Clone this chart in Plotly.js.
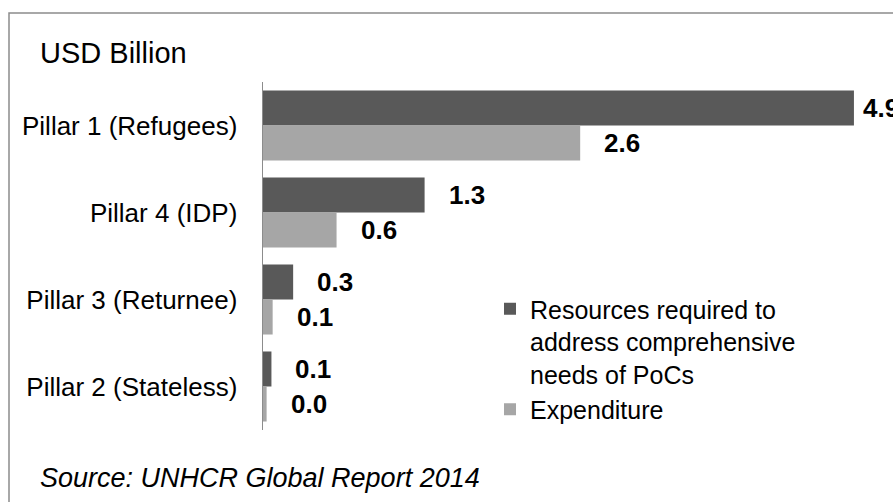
<!DOCTYPE html>
<html>
<head>
<meta charset="utf-8">
<script src="https://cdn.plot.ly/plotly-3.0.1.min.js"></script>
<style>html,body{margin:0;padding:0;background:#fff;}#chart{width:893px;height:502px;}</style>
</head>
<body>
<div id="chart"></div>
<script>
// Data
var categories = ["Pillar 1 (Refugees)", "Pillar 4 (IDP)", "Pillar 3 (Returnee)", "Pillar 2 (Stateless)"];
var requiredValues = [4.9, 1.34, 0.25, 0.07];
var expenditureValues = [2.63, 0.61, 0.08, 0.03];
var requiredLabels = ["4.9", "1.3", "0.3", "0.1"];
var expenditureLabels = ["2.6", "0.6", "0.1", "0.0"];
var seriesNames = ["Resources required to<br>address comprehensive<br>needs of PoCs", "Expenditure"];
var titleText = "USD Billion";
var sourceText = "Source: UNHCR Global Report 2014";

var FONT = "Liberation Sans, Arial, sans-serif";
var DARK = "#595959", LIGHT = "#a6a6a6";

var traces = [
  {type: "bar", orientation: "h", y: categories, x: requiredValues, name: seriesNames[0],
   marker: {color: DARK}, hoverinfo: "none"},
  {type: "bar", orientation: "h", y: categories, x: expenditureValues, name: seriesNames[1],
   marker: {color: LIGHT}, hoverinfo: "none"}
];

var annotations = [];
function addLabels(vals, labels, yshift) {
  for (var i = 0; i < vals.length; i++) {
    annotations.push({
      x: vals[i], y: categories[i], xref: "x", yref: "y",
      text: "<b>" + labels[i] + "</b>", showarrow: false,
      xanchor: "left", yanchor: "middle",
      xshift: (vals[i] > 4 ? 7 : 22), yshift: yshift,
      font: {family: FONT, size: 26, color: "#000"}
    });
  }
}
addLabels(requiredValues, requiredLabels, 17.5);
addLabels(expenditureValues, expenditureLabels, -17.5);

// plot area: x 263..866 (603px), y 82..430 (348px)
function px2paperX(px) { return (px - 263) / 603; }
function px2paperY(py) { return (430 - py) / 348; }

annotations.push({
  text: titleText, xref: "paper", yref: "paper", x: px2paperX(38), y: px2paperY(53),
  xanchor: "left", yanchor: "middle", showarrow: false,
  font: {family: FONT, size: 29, color: "#000"}
});
annotations.push({
  text: "<i>" + sourceText + "</i>", xref: "paper", yref: "paper", x: px2paperX(38), y: px2paperY(478),
  xanchor: "left", yanchor: "middle", showarrow: false,
  font: {family: FONT, size: 27, color: "#000"}
});

var layout = {
  width: 893, height: 502,
  margin: {l: 263, r: 27, t: 82, b: 72, pad: 0},
  paper_bgcolor: "#fff", plot_bgcolor: "#fff",
  barmode: "group", bargap: 0.195, bargroupgap: 0,
  showlegend: true,
  legend: {
    x: px2paperX(490), y: px2paperY(286), xanchor: "left", yanchor: "top",
    font: {family: FONT, size: 25, color: "#000"},
    bgcolor: "rgba(0,0,0,0)", valign: "top", tracegroupgap: 0, itemclick: false
  },
  xaxis: {range: [0, 5], visible: false, fixedrange: true},
  yaxis: {
    autorange: "reversed", showline: true, linecolor: "#8c8c8c", linewidth: 1.5,
    ticks: "", showgrid: false, zeroline: false, ticklabelstandoff: 19,
    tickfont: {family: FONT, size: 26, color: "#000"}, fixedrange: true
  },
  annotations: annotations,
  shapes: [{
    type: "rect", xref: "paper", yref: "paper",
    x0: px2paperX(9), x1: px2paperX(905), y0: px2paperY(515), y1: px2paperY(13),
    line: {color: "#8c8c8c", width: 1.5}, fillcolor: "rgba(0,0,0,0)", layer: "below"
  }]
};

Plotly.newPlot("chart", traces, layout, {displayModeBar: false, staticPlot: true});
</script>
</body>
</html>
